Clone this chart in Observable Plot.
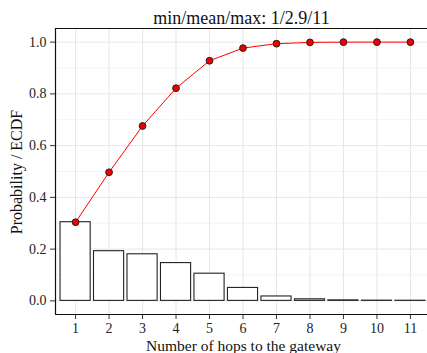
<!DOCTYPE html>
<html>
<head>
<meta charset="utf-8">
<script src="https://cdn.jsdelivr.net/npm/d3@7"></script>
<script src="https://cdn.jsdelivr.net/npm/@observablehq/plot@0.6"></script>
<style>
  html, body { margin: 0; padding: 0; background: #fff; overflow: hidden; }
  #chart { width: 427px; height: 353px; overflow: hidden; }
  #chart svg { max-width: none !important; }
</style>
</head>
<body>
<div id="chart"></div>
<script>
const hops = [1, 2, 3, 4, 5, 6, 7, 8, 9, 10, 11];
const probability = [0.304, 0.192, 0.180, 0.146, 0.105, 0.050, 0.017, 0.006, 0.002, 0.0008, 0.0005];
const ecdf = [0.304, 0.497, 0.676, 0.822, 0.928, 0.977, 0.994, 0.999, 1.0, 1.0, 1.0];
const yTicks = [0.0, 0.2, 0.4, 0.6, 0.8, 1.0];
const yMinor = [0.1, 0.3, 0.5, 0.7, 0.9];
const titleText = "min/mean/max: 1/2.9/11";
const xLabel = "Number of hops to the gateway";
const yLabel = "Probability / ECDF";

const data = hops.map((h, i) => ({hop: h, p: probability[i], e: ecdf[i]}));
const font = "Liberation Serif, Times New Roman, serif";
const xDom = [0.4, 11.51];
const yDom = [-0.0527, 1.0527];

const chart = Plot.plot({
  width: 427,
  height: 353,
  marginLeft: 55,
  marginRight: 0,
  marginTop: 28,
  marginBottom: 39,
  style: {fontFamily: font, fontSize: "14px", color: "#222", background: "#fff"},
  x: {domain: xDom, label: null},
  y: {domain: yDom, label: null},
  marks: [
    Plot.ruleY(yMinor, {stroke: "#f3f3f3", strokeWidth: 1}),
    Plot.ruleY(yTicks, {stroke: "#e6e6e6", strokeWidth: 1}),
    Plot.ruleX(hops, {stroke: "#e6e6e6", strokeWidth: 1}),
    Plot.rect(data, {x1: d => d.hop - 0.45, x2: d => d.hop + 0.45, y1: 0, y2: "p", fill: "white", stroke: "#222", strokeWidth: 1.1}),
    Plot.line(data, {x: "hop", y: "e", stroke: "#ff0000", strokeWidth: 1}),
    Plot.dot(data, {x: "hop", y: "e", r: 3.4, fill: "#ee0000", stroke: "#222", strokeWidth: 1}),
    Plot.axisX({ticks: hops, tickSize: 5, tickPadding: 3.5, tickFormat: d => String(d), fontSize: 14, stroke: "#333", fill: "#222", label: null}),
    Plot.axisY({ticks: yTicks, tickSize: 5, tickPadding: 4, tickFormat: d3.format(".1f"), fontSize: 14, stroke: "#333", fill: "#222", label: null}),
    Plot.ruleX([xDom[0]], {stroke: "#111", strokeWidth: 1.2}),
    Plot.ruleY([yDom[0], yDom[1]], {stroke: "#111", strokeWidth: 1.2}),
    Plot.text([titleText], {frameAnchor: "top", lineAnchor: "middle", dy: -10, fontSize: 18, fill: "#111"}),
    Plot.text([xLabel], {frameAnchor: "bottom", lineAnchor: "middle", dy: 31.5, dx: 2, fontSize: 15.5, fill: "#111"})
  ]
});

const svg = d3.select(chart);
svg.append("text")
  .attr("transform", "translate(21.5,172) rotate(-90)")
  .attr("text-anchor", "middle")
  .attr("font-family", font)
  .attr("font-size", 16)
  .attr("fill", "#111")
  .text(yLabel);

document.getElementById("chart").appendChild(chart);
</script>
</body>
</html>
